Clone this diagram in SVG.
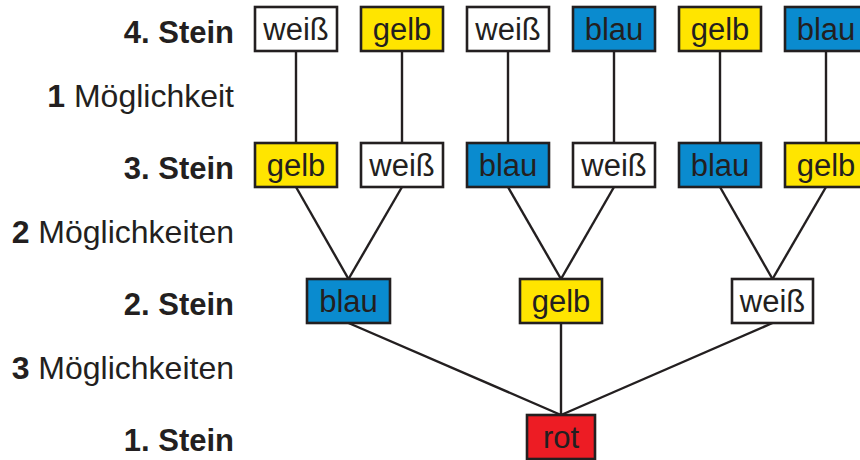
<svg xmlns="http://www.w3.org/2000/svg" width="860" height="460" viewBox="0 0 860 460">
<style>
.box{stroke:#231f20;stroke-width:2.6}
.w{fill:#ffffff}.y{fill:#ffe500}.b{fill:#0a8bcf}.r{fill:#ed1c24}
.t{font-family:"Liberation Sans",Arial,sans-serif;font-size:31px;fill:#231f20;text-anchor:middle}
.lab{font-family:"Liberation Sans",Arial,sans-serif;font-size:32px;fill:#231f20;text-anchor:end}
.st{font-size:31px;font-weight:bold}
.bold{font-weight:bold}
.con line{stroke:#231f20;stroke-width:2.4;fill:none}
</style>
<rect width="860" height="460" fill="#ffffff"/>
<g id="labels">
<text class="lab st" x="234" y="43">4. Stein</text>
<text class="lab" x="234" y="107"><tspan class="bold">1</tspan> Möglichkeit</text>
<text class="lab st" x="234" y="179">3. Stein</text>
<text class="lab" x="234" y="243"><tspan class="bold">2</tspan> Möglichkeiten</text>
<text class="lab st" x="234" y="315">2. Stein</text>
<text class="lab" x="234" y="379"><tspan class="bold">3</tspan> Möglichkeiten</text>
<text class="lab st" x="234" y="451">1. Stein</text>
</g>
<g id="connectors" class="con">
<line x1="296" y1="51" x2="296" y2="143"/>
<line x1="402" y1="51" x2="402" y2="143"/>
<line x1="508" y1="51" x2="508" y2="143"/>
<line x1="614" y1="51" x2="614" y2="143"/>
<line x1="720" y1="51" x2="720" y2="143"/>
<line x1="826" y1="51" x2="826" y2="143"/>
<line x1="296" y1="187" x2="348.5" y2="279"/>
<line x1="402" y1="187" x2="348.5" y2="279"/>
<line x1="508" y1="187" x2="561" y2="279"/>
<line x1="614" y1="187" x2="561" y2="279"/>
<line x1="720" y1="187" x2="772.5" y2="279"/>
<line x1="826" y1="187" x2="772.5" y2="279"/>
<line x1="348.5" y1="323" x2="561" y2="415"/>
<line x1="561" y1="323" x2="561" y2="415"/>
<line x1="772.5" y1="323" x2="561" y2="415"/>
</g>
<g id="n4a"><rect class="box w" x="255" y="7" width="82" height="44"/><text class="t" x="296" y="40">weiß</text></g>
<g id="n4b"><rect class="box y" x="361" y="7" width="82" height="44"/><text class="t" x="402" y="40">gelb</text></g>
<g id="n4c"><rect class="box w" x="467" y="7" width="82" height="44"/><text class="t" x="508" y="40">weiß</text></g>
<g id="n4d"><rect class="box b" x="573" y="7" width="82" height="44"/><text class="t" x="614" y="40">blau</text></g>
<g id="n4e"><rect class="box y" x="679" y="7" width="82" height="44"/><text class="t" x="720" y="40">gelb</text></g>
<g id="n4f"><rect class="box b" x="785" y="7" width="82" height="44"/><text class="t" x="826" y="40">blau</text></g>
<g id="n3a"><rect class="box y" x="255" y="143" width="82" height="44"/><text class="t" x="296" y="176">gelb</text></g>
<g id="n3b"><rect class="box w" x="361" y="143" width="82" height="44"/><text class="t" x="402" y="176">weiß</text></g>
<g id="n3c"><rect class="box b" x="467" y="143" width="82" height="44"/><text class="t" x="508" y="176">blau</text></g>
<g id="n3d"><rect class="box w" x="573" y="143" width="82" height="44"/><text class="t" x="614" y="176">weiß</text></g>
<g id="n3e"><rect class="box b" x="679" y="143" width="82" height="44"/><text class="t" x="720" y="176">blau</text></g>
<g id="n3f"><rect class="box y" x="785" y="143" width="82" height="44"/><text class="t" x="826" y="176">gelb</text></g>
<g id="n2a"><rect class="box b" x="307" y="279" width="83" height="44"/><text class="t" x="348.5" y="312">blau</text></g>
<g id="n2b"><rect class="box y" x="520" y="279" width="82" height="44"/><text class="t" x="561" y="312">gelb</text></g>
<g id="n2c"><rect class="box w" x="732" y="279" width="81" height="44"/><text class="t" x="772.5" y="312">weiß</text></g>
<g id="n1"><rect class="box r" x="527" y="415" width="68" height="44"/><text class="t" x="561" y="448">rot</text></g>
</svg>
